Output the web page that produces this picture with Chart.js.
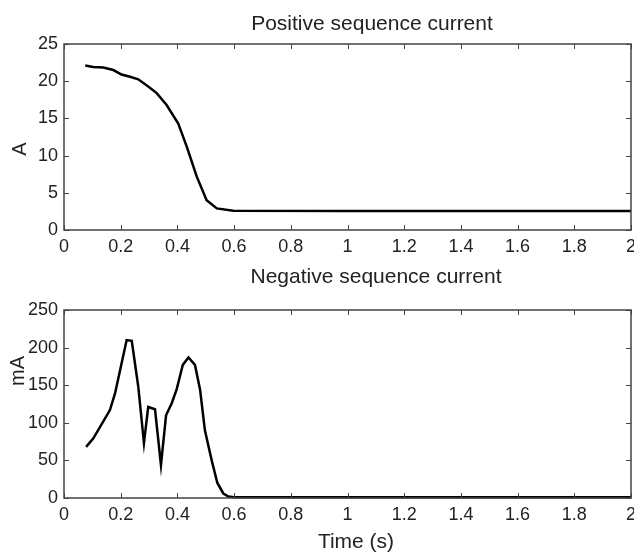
<!DOCTYPE html>
<html>
<head>
<meta charset="utf-8">
<script src="https://cdn.jsdelivr.net/npm/chart.js@4"></script>
<style>
    body { margin: 0; background: #fff; }
    #wrap { position: relative; width: 634px; height: 554px; font-family: "Liberation Sans", Arial, sans-serif; color: #222; }
    canvas { position: absolute; left: 0; }
    .lbl { position: absolute; font-size: 21px; white-space: nowrap; transform: translate(-50%, -50%); }
    .rot { font-size: 20px; transform: translate(-50%, -50%) rotate(-90deg); }
</style>
</head>
<body>
<div id="wrap">
    <canvas id="posChart" width="634" height="265" style="top:0"></canvas>
    <canvas id="negChart" width="634" height="289" style="top:265px"></canvas>
    <div class="lbl" style="left:372px; top:23px">Positive sequence current</div>
    <div class="lbl" style="left:376px; top:276px">Negative sequence current</div>
    <div class="lbl rot" style="left:19px; top:149px">A</div>
    <div class="lbl rot" style="left:17px; top:371px">mA</div>
    <div class="lbl" style="left:356px; top:541px">Time (s)</div>
</div>
<script>
// time axis ticks (s)
const xTicks = [0, 0.2, 0.4, 0.6, 0.8, 1, 1.2, 1.4, 1.6, 1.8, 2];
const posTicks = [0, 5, 10, 15, 20, 25];
const negTicks = [0, 50, 100, 150, 200, 250];

// positive sequence current (A)
const posTime = [0.075, 0.103, 0.139, 0.174, 0.203, 0.233, 0.262, 0.297, 0.327, 0.362, 0.403, 0.433, 0.468, 0.503, 0.539, 0.597, 1.0, 1.5, 2.0];
const posCurrent = [22.1, 21.9, 21.85, 21.5, 20.9, 20.6, 20.25, 19.3, 18.4, 16.8, 14.3, 11.2, 7.2, 4.0, 2.9, 2.6, 2.55, 2.55, 2.55];

// negative sequence current (mA)
const negTime = [0.078, 0.103, 0.162, 0.180, 0.203, 0.221, 0.239, 0.262, 0.282, 0.297, 0.321, 0.342, 0.360, 0.380, 0.397, 0.419, 0.439, 0.462, 0.480, 0.497, 0.521, 0.541, 0.562, 0.580, 0.6, 1.0, 1.5, 2.0];
const negCurrent = [68, 79, 117, 139, 179, 210, 209, 148, 73, 121, 118, 44, 110, 126, 144, 177, 187, 177, 144, 90, 50, 20, 6, 2, 1, 1, 1, 1];

// box + inward ticks like the matlab plot
const boxPlugin = {
    id: 'boxTicks',
    afterDraw(chart) {
        const ctx = chart.ctx;
        const a = chart.chartArea;
        const xs = chart.scales.x;
        const ys = chart.scales.y;
        const len = 5;
        ctx.save();
        ctx.strokeStyle = '#444';
        ctx.lineWidth = 1;
        ctx.beginPath();
        xs.ticks.forEach(function(t) {
            const px = Math.round(xs.getPixelForValue(t.value)) + 0.5;
            ctx.moveTo(px, a.bottom);
            ctx.lineTo(px, a.bottom - len);
            ctx.moveTo(px, a.top);
            ctx.lineTo(px, a.top + len);
        });
        ys.ticks.forEach(function(t) {
            const py = Math.round(ys.getPixelForValue(t.value)) + 0.5;
            ctx.moveTo(a.left, py);
            ctx.lineTo(a.left + len, py);
            ctx.moveTo(a.right, py);
            ctx.lineTo(a.right - len, py);
        });
        ctx.stroke();
        ctx.lineWidth = 1.5;
        ctx.strokeRect(a.left, a.top, a.right - a.left, a.bottom - a.top);
        ctx.restore();
    }
};

function makeChart(id, times, values, yTicks, yMax, topPad, xHeight) {
    const ctx = document.getElementById(id).getContext('2d');
    return new Chart(ctx, {
        type: 'line',
        data: {
            datasets: [{
                data: times.map(function(t, i) { return { x: t, y: values[i] }; }),
                borderColor: '#000',
                borderWidth: 2.5,
                pointRadius: 0,
                tension: 0,
                clip: false
            }]
        },
        options: {
            responsive: false,
            animation: false,
            layout: { padding: { top: topPad, right: 3, left: 0, bottom: 0 } },
            plugins: {
                legend: { display: false },
                tooltip: { enabled: false }
            },
            scales: {
                x: {
                    type: 'linear',
                    min: 0,
                    max: 2,
                    afterBuildTicks: function(s) { s.ticks = xTicks.map(function(v) { return { value: v }; }); },
                    afterFit: function(s) {
                        s.height = xHeight;
                        s.paddingLeft = 0;
                        s.paddingRight = 0;
                    },
                    grid: { display: false, drawTicks: false, tickLength: 0 },
                    border: { display: false },
                    ticks: {
                        color: '#222',
                        padding: 6,
                        maxRotation: 0,
                        autoSkip: false,
                        callback: function(v) { return String(v); },
                        font: { family: 'Liberation Sans', size: 18 }
                    }
                },
                y: {
                    min: 0,
                    max: yMax,
                    afterBuildTicks: function(s) { s.ticks = yTicks.map(function(v) { return { value: v }; }); },
                    afterFit: function(s) {
                        s.width = 64;
                        s.paddingTop = 0;
                        s.paddingBottom = 0;
                    },
                    grid: { display: false, drawTicks: false, tickLength: 0 },
                    border: { display: false },
                    ticks: {
                        color: '#222',
                        padding: 6,
                        callback: function(v) { return String(v); },
                        font: { family: 'Liberation Sans', size: 18 }
                    }
                }
            }
        },
        plugins: [boxPlugin]
    });
}

makeChart('posChart', posTime, posCurrent, posTicks, 25, 44, 35);
makeChart('negChart', negTime, negCurrent, negTicks, 250, 45, 56);
</script>
</body>
</html>
